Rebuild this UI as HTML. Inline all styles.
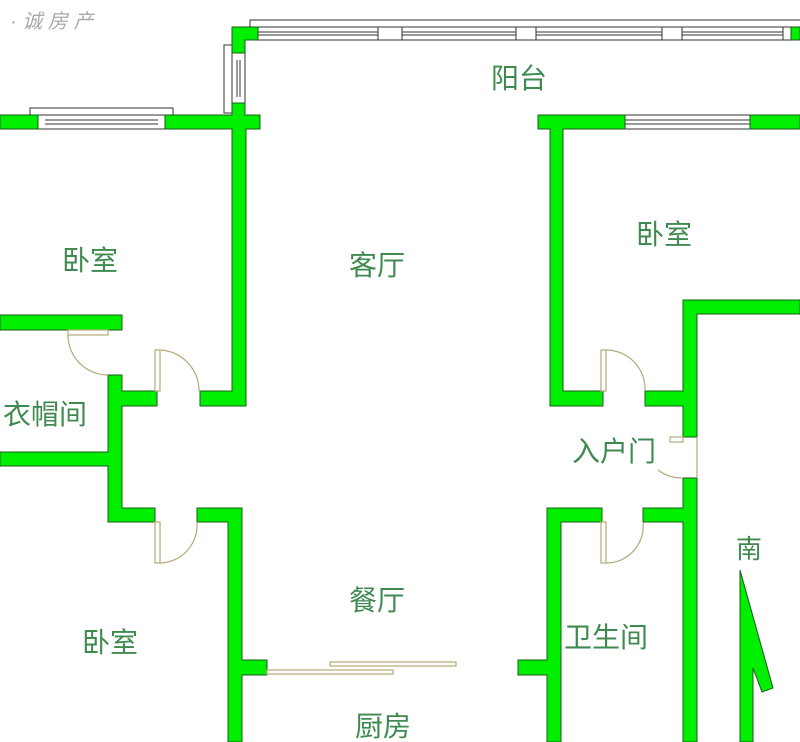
<!DOCTYPE html>
<html><head><meta charset="utf-8"><style>
html,body{margin:0;padding:0;background:#fff;}
svg{display:block;}
text{font-family:"Liberation Sans","Noto Sans CJK SC",sans-serif;fill:#3f8a4f;font-size:28px;}
</style></head><body>
<svg width="800" height="742" viewBox="0 0 800 742" xmlns="http://www.w3.org/2000/svg">
<rect width="800" height="742" fill="#fff"/>
<text x="10" y="28" style="fill:#aaa;font-size:20px;font-style:italic">· 诚 房 产</text>
<g fill="#fff" stroke="#333" stroke-width="1">
<polyline points="250,27 250,20 800,20" fill="none"/>
<rect x="258" y="27" width="540" height="13"/>
<line x1="258" y1="32" x2="798" y2="32"/><line x1="258" y1="35" x2="798" y2="35"/>
<rect x="378" y="27" width="24" height="13"/><rect x="516" y="27" width="20" height="13"/><rect x="662" y="27" width="20" height="13"/><rect x="783" y="27" width="8" height="13"/>
<polyline points="232,45 224,45 224,113 232,113" fill="none"/>
<rect x="232" y="53" width="13" height="50"/>
<line x1="237" y1="60" x2="237" y2="97"/><line x1="240" y1="60" x2="240" y2="97"/>
<polyline points="30,115 30,108 173,108 173,115" fill="none"/>
<rect x="38" y="115" width="127" height="14"/>
<line x1="45" y1="120" x2="158" y2="120"/><line x1="45" y1="124" x2="158" y2="124"/>
<rect x="625" y="115" width="125" height="14"/>
<line x1="625" y1="120" x2="750" y2="120"/><line x1="625" y1="124" x2="750" y2="124"/>
</g>
<g fill="#00ee00" stroke="#1a5a1a" stroke-width="1">
<path d="M232,27 H258 V40 H245 V53 H232 Z"/>
<rect x="791" y="27" width="9" height="13"/>
<rect x="0" y="115" width="38" height="14"/>
<path d="M165,115 H232 V103 H245 V115 H260 V129 H246 V406 H200 V391 H232 V129 H165 Z"/>
<rect x="0" y="315" width="122" height="15"/>
<path d="M108,375 H122 V391 H157 V406 H122 V508 H155 V522 H108 V466 H0 V452 H108 Z"/>
<path d="M197,508 H242 V660 H267 V675 H242 V742 H228 V522 H197 Z"/>
<path d="M538,115 H625 V129 H563 V391 H603 V406 H550 V129 H538 Z"/>
<rect x="750" y="115" width="50" height="14"/>
<path d="M683,300 H800 V314 H697 V437 H683 V406 H645 V391 H683 Z"/>
<path d="M683,478 H697 V742 H683 V522 H643 V508 H683 Z"/>
<path d="M547,508 H602 V522 H561 V742 H547 V675 H518 V660 H547 Z"/>
<path d="M740,570 L773,688 L762,692 L753,668 L753,742 L740,742 Z"/>
</g>
<g fill="none" stroke="#b8a878" stroke-width="1.2">
<rect x="68" y="330" width="40" height="5"/><path d="M68,335 A40,40 0 0 0 108,375"/>
<rect x="155" y="350" width="5" height="41"/><path d="M160,350 A41,41 0 0 1 199,391"/>
<rect x="155" y="522" width="5" height="41"/><path d="M160,563 A38,38 0 0 0 197,522"/>
<rect x="601" y="350" width="5" height="41"/><path d="M606,350 A39,39 0 0 1 645,391"/>
<rect x="601" y="522" width="5" height="41"/><path d="M606,563 A37,37 0 0 0 643,522"/>
<rect x="670" y="437" width="13" height="5"/><line x1="697" y1="437" x2="697" y2="478"/><path d="M658,470 A40,40 0 0 0 683,478"/>
<rect x="267" y="670" width="126" height="4"/><rect x="330" y="662" width="126" height="4"/>
</g>
<text x="491" y="88">阳台</text>
<text x="62" y="270">卧室</text>
<text x="349" y="275">客厅</text>
<text x="636" y="244">卧室</text>
<text x="3" y="424">衣帽间</text>
<text x="572" y="461">入户门</text>
<text x="349" y="610">餐厅</text>
<text x="82" y="652">卧室</text>
<text x="564" y="647">卫生间</text>
<text x="355" y="736">厨房</text>
<text x="736" y="558" style="font-size:26px">南</text>
</svg>
</body></html>
